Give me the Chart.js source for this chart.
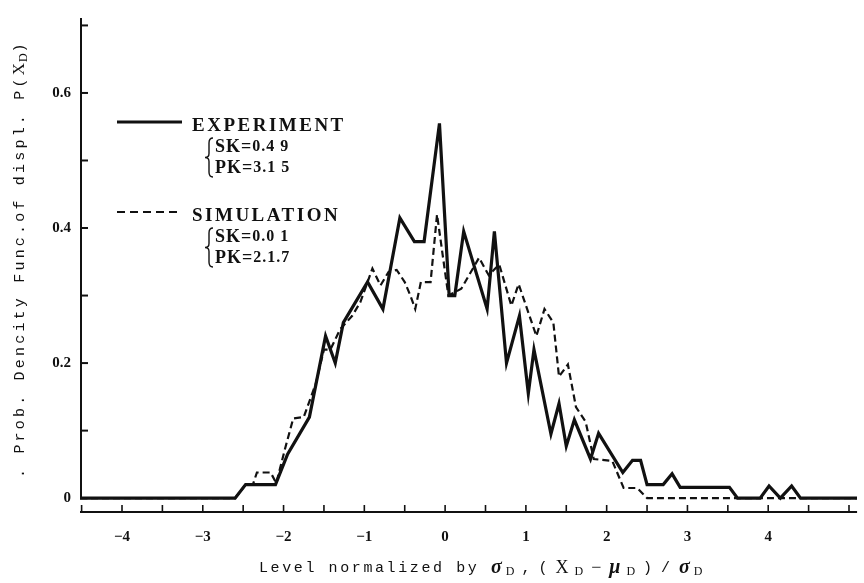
<!DOCTYPE html>
<html>
<head>
<meta charset="utf-8">
<script src="https://cdn.jsdelivr.net/npm/chart.js@4.4.1/dist/chart.umd.min.js"></script>
<style>
  html, body { margin: 0; padding: 0; background: #fff; }
  #wrap { width: 864px; height: 583px; }
</style>
</head>
<body>
<div id="wrap"><canvas id="chart_wrap" width="864" height="583"></canvas></div>
<script>
// experiment (solid line)
const expX = [-4.52, -2.6, -2.47, -2.1, -1.95, -1.68, -1.48, -1.36, -1.26, -0.96, -0.77, -0.56, -0.38, -0.26, -0.07,
  0.05, 0.12, 0.23, 0.52, 0.61, 0.76, 0.92, 1.03, 1.10, 1.31, 1.41, 1.50, 1.60, 1.80, 1.90, 2.20, 2.32, 2.42, 2.50,
  2.70, 2.81, 2.91, 3.52, 3.62, 3.90, 4.01, 4.15, 4.29, 4.40, 5.1];
const expY = [0, 0, 0.02, 0.02, 0.065, 0.12, 0.24, 0.20, 0.26, 0.32, 0.28, 0.415, 0.38, 0.38, 0.555,
  0.30, 0.30, 0.395, 0.28, 0.395, 0.20, 0.27, 0.155, 0.22, 0.095, 0.14, 0.077, 0.116, 0.058, 0.096, 0.038, 0.056, 0.056, 0.02,
  0.02, 0.036, 0.016, 0.016, 0, 0, 0.018, 0, 0.018, 0, 0];

// simulation (dashed line)
const simX = [-4.52, -2.6, -2.47, -2.38, -2.33, -2.16, -2.09, -1.98, -1.88, -1.75, -1.6, -1.5, -1.42, -1.3, -1.15, -1.05,
  -0.9, -0.8, -0.7, -0.6, -0.5, -0.43, -0.37, -0.3, -0.18, -0.1, -0.03, 0.04, 0.2, 0.42, 0.54, 0.67, 0.82, 0.91,
  1.13, 1.23, 1.34, 1.41, 1.52, 1.62, 1.74, 1.84, 2.07, 2.21, 2.38, 2.5, 5.1];
const simY = [0, 0, 0.02, 0.02, 0.038, 0.038, 0.022, 0.074, 0.118, 0.12, 0.17, 0.22, 0.22, 0.25, 0.27, 0.29,
  0.34, 0.315, 0.335, 0.338, 0.32, 0.30, 0.28, 0.32, 0.32, 0.42, 0.36, 0.30, 0.31, 0.356, 0.33, 0.346, 0.285, 0.317,
  0.24, 0.28, 0.26, 0.18, 0.198, 0.135, 0.113, 0.058, 0.055, 0.015, 0.015, 0, 0];

// axes
const xTickValues = [-4.5, -4, -3.5, -3, -2.5, -2, -1.5, -1, -0.5, 0, 0.5, 1, 1.5, 2, 2.5, 3, 3.5, 4, 4.5, 5];
const xLabelValues = [-4, -3, -2, -1, 0, 1, 2, 3, 4];
const xTickLabels = ['\u22124', '\u22123', '\u22122', '\u22121', '0', '1', '2', '3', '4'];
const yTickValues = [0, 0.1, 0.2, 0.3, 0.4, 0.5, 0.6, 0.7];
const yLabelValues = [0, 0.2, 0.4, 0.6];
const yTickLabels = ['0', '0.2', '0.4', '0.6'];

const legendNames = ['EXPERIMENT', 'SIMULATION'];
const legendSK = ['0.4 9', '0.0 1'];
const legendPK = ['3.1 5', '2.1.7'];

const SERIF = '"Liberation Serif", "DejaVu Serif", serif';
const MONO = '"Liberation Mono", "DejaVu Sans Mono", monospace';

function drawRuns(ctx, runs, x0, y, align) {
  let total = 0;
  runs.forEach(r => {
    ctx.font = r.font;
    ctx.letterSpacing = r.ls || '0px';
    r.w = ctx.measureText(r.t).width;
    total += r.w;
  });
  let x = align === 'center' ? x0 - total / 2 : x0;
  runs.forEach(r => {
    ctx.font = r.font;
    ctx.letterSpacing = r.ls || '0px';
    ctx.fillText(r.t, x, y + (r.dy || 0));
    x += r.w;
  });
  ctx.letterSpacing = '0px';
}

function brace(ctx, x, y1, y2) {
  const mid = (y1 + y2) / 2;
  ctx.beginPath();
  ctx.moveTo(x + 5, y1);
  ctx.quadraticCurveTo(x + 1, y1, x + 1, y1 + 5);
  ctx.lineTo(x + 1, mid - 4);
  ctx.quadraticCurveTo(x + 1, mid, x - 3, mid);
  ctx.quadraticCurveTo(x + 1, mid, x + 1, mid + 4);
  ctx.lineTo(x + 1, y2 - 5);
  ctx.quadraticCurveTo(x + 1, y2, x + 5, y2);
  ctx.stroke();
}

// axis lines and inward tick marks
const axisPlugin = {
  id: 'axisPlugin',
  afterDraw(chart) {
    const ctx = chart.ctx;
    const xs = chart.scales.x, ys = chart.scales.y;
    const area = chart.chartArea;
    ctx.save();
    ctx.strokeStyle = '#111';
    ctx.lineWidth = 2;
    const x0 = area.left + 1;
    ctx.beginPath();
    ctx.moveTo(x0, ys.getPixelForValue(ys.max));
    ctx.lineTo(x0, ys.getPixelForValue(0));
    ctx.stroke();
    yTickValues.forEach(v => {
      const py = ys.getPixelForValue(v);
      ctx.beginPath();
      ctx.moveTo(x0, py);
      ctx.lineTo(x0 + 7, py);
      ctx.stroke();
    });
    const yb = area.bottom - 1;
    ctx.beginPath();
    ctx.moveTo(area.left, yb);
    ctx.lineTo(area.right, yb);
    ctx.stroke();
    ctx.lineWidth = 1.6;
    xTickValues.forEach(v => {
      const px = xs.getPixelForValue(v) + (v === xs.min ? 1 : 0);
      ctx.beginPath();
      ctx.moveTo(px, yb);
      ctx.lineTo(px, yb - 7);
      ctx.stroke();
    });
    ctx.restore();
  }
};

// legend block and axis titles
const textPlugin = {
  id: 'textPlugin',
  afterDraw(chart) {
    const ctx = chart.ctx;
    ctx.save();
    ctx.fillStyle = '#111';
    ctx.strokeStyle = '#111';
    ctx.textBaseline = 'middle';
    ctx.textAlign = 'left';

    const rows = [125, 215];
    rows.forEach((ry, i) => {
      ctx.lineWidth = i === 0 ? 3.2 : 2.2;
      ctx.setLineDash(i === 0 ? [] : [8, 5]);
      ctx.beginPath();
      ctx.moveTo(117, ry - 3);
      ctx.lineTo(182, ry - 3);
      ctx.stroke();
      ctx.setLineDash([]);
      drawRuns(ctx, [{ t: legendNames[i], font: 'bold 19px ' + SERIF, ls: '2.5px' }], 192, ry + 1);
      ctx.lineWidth = 1.4;
      brace(ctx, 208, ry + 13, ry + 52);
      drawRuns(ctx, [
        { t: 'SK=', font: 'bold 18px ' + SERIF, ls: '1px' },
        { t: legendSK[i], font: 'bold 16px ' + SERIF, ls: '1px' }
      ], 215, ry + 22);
      drawRuns(ctx, [
        { t: 'PK=', font: 'bold 18px ' + SERIF, ls: '1px' },
        { t: legendPK[i], font: 'bold 16px ' + SERIF, ls: '1px' }
      ], 215, ry + 43);
    });

    const mono = '15px ' + MONO;
    const greek = 'italic bold 20px ' + SERIF;
    const sub = '12px ' + SERIF;
    drawRuns(ctx, [
      { t: 'Level normalized by ', font: mono, ls: '2.6px' },
      { t: '\u03c3', font: greek, ls: '4px' },
      { t: 'D', font: sub, dy: 4, ls: '7px' },
      { t: ',(', font: mono, ls: '8px' },
      { t: 'X', font: '18px ' + SERIF, ls: '6px' },
      { t: 'D', font: sub, dy: 4, ls: '8px' },
      { t: '\u2212', font: '18px ' + SERIF, ls: '8px' },
      { t: '\u03bc', font: greek, ls: '6px' },
      { t: 'D', font: sub, dy: 4, ls: '8px' },
      { t: ')/', font: mono, ls: '9px' },
      { t: '\u03c3', font: greek, ls: '4px' },
      { t: 'D', font: sub, dy: 4 }
    ], 259, 568, 'left');

    ctx.translate(20, 478);
    ctx.rotate(-Math.PI / 2);
    drawRuns(ctx, [
      { t: '. Prob. Dencity Func.of displ. P(', font: mono, ls: '3.2px' },
      { t: 'X', font: '17px ' + SERIF, ls: '1px' },
      { t: 'D', font: sub, dy: 4, ls: '1px' },
      { t: ')', font: mono }
    ], 0, 0, 'left');
    ctx.restore();
  }
};

const tickFont = { family: SERIF, weight: 'bold', size: 15 };

const ctx = document.getElementById('chart_wrap').getContext('2d');
const chart = new Chart(ctx, {
  type: 'line',
  data: {
    datasets: [
      {
        label: 'EXPERIMENT',
        data: expX.map((x, i) => ({ x: x, y: expY[i] })),
        borderColor: '#111',
        borderWidth: 3.2,
        pointRadius: 0,
        tension: 0,
        fill: false
      },
      {
        label: 'SIMULATION',
        data: simX.map((x, i) => ({ x: x, y: simY[i] })),
        borderColor: '#111',
        borderWidth: 2.2,
        borderDash: [7, 4],
        pointRadius: 0,
        tension: 0,
        fill: false
      }
    ]
  },
  options: {
    responsive: false,
    animation: false,
    events: [],
    layout: { padding: { top: 9, right: 0, left: 0, bottom: 0 } },
    plugins: { legend: { display: false }, tooltip: { enabled: false } },
    scales: {
      x: {
        type: 'linear',
        min: -4.52,
        max: 5.1,
        afterBuildTicks: s => { s.ticks = xTickValues.map(v => ({ value: v })); },
        afterFit: s => { s.height = 70; },
        grid: { display: false, drawTicks: false },
        border: { display: false },
        ticks: {
          autoSkip: false,
          maxRotation: 0,
          padding: 15,
          color: '#111',
          font: tickFont,
          callback: v => {
            const i = xLabelValues.indexOf(v);
            return i < 0 ? '' : xTickLabels[i];
          }
        }
      },
      y: {
        type: 'linear',
        min: -0.022,
        max: 0.711,
        afterBuildTicks: s => { s.ticks = yTickValues.map(v => ({ value: v })); },
        afterFit: s => { s.width = 80; },
        grid: { display: false, drawTicks: false },
        border: { display: false },
        ticks: {
          autoSkip: false,
          padding: 9,
          color: '#111',
          font: tickFont,
          callback: v => {
            const i = yLabelValues.indexOf(v);
            return i < 0 ? '' : yTickLabels[i];
          }
        }
      }
    }
  },
  plugins: [axisPlugin, textPlugin]
});
</script>
</body>
</html>
